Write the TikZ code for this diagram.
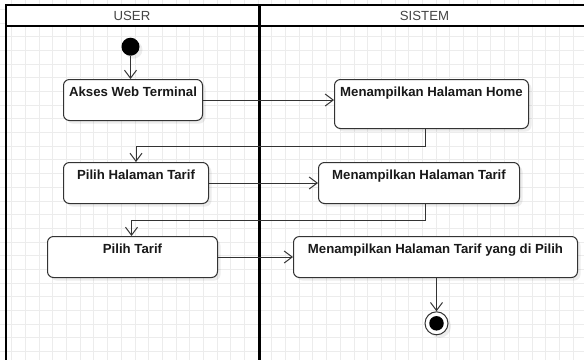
\documentclass[tikz,border=0pt]{standalone}
\usepackage{fontspec}
\setmainfont{Liberation Sans}
\usetikzlibrary{arrows.meta,shadows}
\definecolor{gridc}{HTML}{ECECEC}
\definecolor{ink}{HTML}{333333}
\definecolor{hdr}{HTML}{444444}
\tikzset{
  gridline/.style={draw=gridc, line width=0.8pt},
  lane/.style={draw=black, line width=2pt},
  divider/.style={draw=black, line width=3pt},
  soft/.style={drop shadow={shadow xshift=3pt, shadow yshift=-3pt, fill=black, opacity=0.07}},
  act/.style={draw=ink, line width=1pt, rounded corners=6pt, fill=white, soft,
    anchor=north west, inner xsep=0pt, inner ysep=0pt, text height=17pt,
    font=\fontsize{13.2}{15}\selectfont\bfseries, text=black!90},
  hdrtext/.style={font=\fontsize{13.2}{15}\selectfont, text=hdr, inner sep=0pt},
  flow/.style={draw=ink, line width=1pt, -{Straight Barb[length=8pt,width=12pt,line width=1pt]}},
}
\begin{document}
\begin{tikzpicture}[x=1pt,y=-1pt]
  \useasboundingbox (0,0) rectangle (584,360);
  % background grid
  \foreach \i in {0,...,42} \draw[gridline] ({11.7+13.69*\i},0) -- ++(0,360);
  \foreach \j in {0,...,26} \draw[gridline] (0,{9.26+13.69*\j}) -- ++(584,0);
  % swimlane header band and frame
  \fill[white] (6,5) rectangle (584,26);
  \draw[lane] (6,5) -- (584,5);
  \draw[lane] (6,26) -- (584,26);
  \draw[lane] (6,4) -- (6,360);
  \draw[divider] (259.5,4) -- (259.5,360);
  \node[hdrtext] (userhdr) at (132,15.8) {USER};
  \node[hdrtext] (sistemhdr) at (424.5,15.8) {SISTEM};

  % activities
  \node[circle, fill=black, minimum size=18pt, inner sep=0pt, soft] (start) at (130.5,46.7) {};
  \node[act, minimum width=139pt, text depth=24pt] (akses) at (63,79) {Akses Web Terminal};
  \node[act, minimum width=194pt, text depth=32pt] (home) at (334,79) {Menampilkan Halaman Home};
  \node[act, minimum width=145pt, text depth=24pt] (pht) at (63,162) {Pilih Halaman Tarif};
  \node[act, minimum width=201pt, text depth=24pt] (mht) at (318,162) {Menampilkan Halaman Tarif};
  \node[act, minimum width=170pt, text depth=24pt] (pt) at (47,236) {Pilih Tarif};
  \node[act, minimum width=284pt, text depth=24pt] (ydp) at (293,236) {Menampilkan Halaman Tarif yang di Pilih};
  \node[circle, draw=ink, line width=1pt, fill=white, minimum size=23pt, inner sep=0pt, soft] (stop) at (436.5,323.3) {};
  \node[circle, fill=black, minimum size=14.5pt, inner sep=0pt] (stopdot) at (stop) {};

  % control flow
  \draw[flow] (start.south) -- (start.south |- akses.north);
  \draw[flow] (akses.east) -- (akses.east -| home.west);
  \draw[flow] ([xshift=-6pt]home.south) -- ++(0,17) -| (pht.north);
  \draw[flow] (pht.east) -- (pht.east -| mht.west);
  \draw[flow] ([xshift=6.5pt]mht.south) -- ++(0,16) -| ([xshift=-1pt]pt.north);
  \draw[flow] (pt.east) -- (pt.east -| ydp.west);
  \draw[flow] (stop.north |- ydp.south) -- (stop.north);
\end{tikzpicture}
\end{document}
